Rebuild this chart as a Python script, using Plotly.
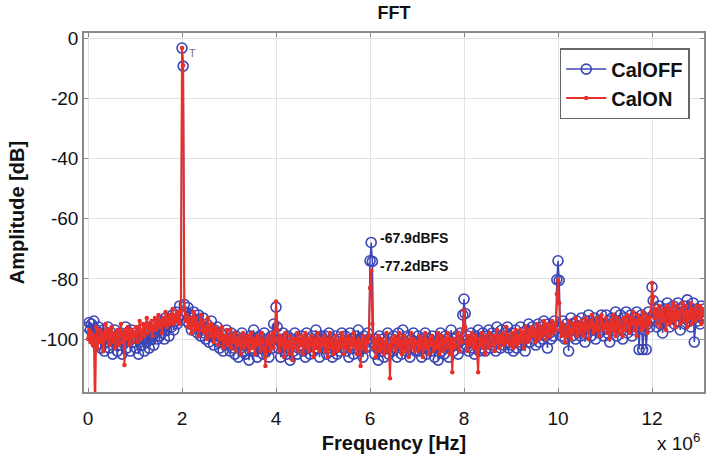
import plotly.graph_objects as go

# ---------------- data ----------------
# FFT magnitude in dB, one list per 1 MHz span, bins every 25 kHz
BIN_HZ = 25000

caloff_db_by_mhz = [
    [-96, -94.5, -97, -95, -99, -94, -100, -97, -102, -96, -98, -103, -100, -97, -104, -99, -101, -96, -103, -100,
     -98, -105, -101, -97, -99, -104, -100, -102, -98, -105, -99, -101, -96, -103, -100, -98, -104, -97, -101, -99],
    [-98, -103, -100, -105, -99, -97, -102, -100, -104, -98, -101, -96, -103, -99, -100, -97, -102, -98, -95, -100,
     -97, -99, -94, -98, -96, -100, -93, -97, -95, -99, -94, -96, -92, -97, -94, -91, -95, -93, -89, -92],
    [-3.3, -9.3, -88.5, -91, -94, -89.5, -95, -92, -97, -93, -91, -96, -94, -98, -92, -95, -99, -96, -93, -98,
     -100, -95, -97, -101, -98, -94, -99, -102, -97, -100, -96, -101, -103, -98, -100, -104, -99, -102, -97, -101],
    [-100, -104, -98, -103, -101, -105, -99, -102, -106, -100, -103, -98, -104, -101, -105, -100, -102, -107, -99, -103,
     -101, -97, -104, -100, -106, -102, -99, -103, -101, -105, -98, -102, -104, -100, -106, -101, -99, -103, -95, -100],
    [-89.4, -96, -103, -100, -106, -101, -98, -104, -102, -105, -99, -103, -107, -100, -102, -104, -98, -101, -105, -103,
     -100, -102, -99, -104, -101, -106, -98, -103, -100, -105, -102, -99, -104, -101, -97, -103, -100, -106, -102, -99],
    [-100, -103, -99, -105, -102, -98, -104, -101, -106, -100, -103, -99, -105, -102, -104, -100, -98, -103, -101, -99,
     -104, -101, -106, -98, -102, -100, -105, -103, -99, -101, -97, -104, -100, -102, -106, -99, -103, -101, -98, -100],
    [-74.0, -67.9, -74.2, -101, -105, -100, -103, -107, -99, -102, -104, -100, -106, -101, -103, -98, -105, -102, -100, -104,
     -99, -103, -101, -106, -98, -102, -100, -105, -97, -103, -101, -104, -99, -102, -106, -100, -103, -98, -101, -104],
    [-101, -99, -104, -102, -106, -100, -103, -98, -105, -101, -103, -100, -104, -99, -102, -106, -101, -103, -107, -100,
     -98, -104, -101, -105, -99, -102, -100, -106, -103, -97, -101, -104, -100, -102, -99, -105, -101, -98, -103, -92],
    [-86.7, -91.5, -102, -99, -104, -101, -98, -103, -100, -105, -99, -102, -97, -104, -100, -103, -98, -101, -104, -99,
     -101, -97, -103, -100, -98, -102, -99, -104, -96, -101, -99, -103, -97, -100, -102, -98, -101, -96, -103, -99],
    [-102, -98, -104, -100, -97, -103, -99, -101, -96, -102, -98, -100, -104, -97, -99, -95, -101, -98, -96, -100,
     -97, -102, -99, -95, -101, -98, -96, -100, -94, -99, -97, -103, -95, -98, -100, -96, -99, -94, -97, -80.3],
    [-74.0, -80.5, -96, -99, -94, -97, -100, -95, -98, -104, -96, -93, -99, -97, -95, -100, -94, -98, -96, -99,
     -93, -97, -95, -101, -94, -98, -92, -96, -99, -95, -97, -93, -100, -96, -94, -98, -95, -92, -97, -99],
    [-95, -92, -98, -94, -101, -96, -93, -97, -95, -91, -99, -94, -96, -92, -97, -100, -93, -95, -91, -98,
     -94, -96, -92, -99, -95, -93, -97, -91, -96, -103.5, -94, -92, -103.5, -97, -93, -103.5, -95, -91, -96, -93],
    [-82.7, -87.2, -94, -90, -96, -92, -89, -95, -91, -98, -93, -90, -94, -88, -92, -96, -90, -93, -89, -95,
     -91, -94, -88, -92, -97, -90, -93, -89, -95, -91, -87, -94, -90, -96, -92, -88, -101, -93, -90, -94],
    [-91, -95, -89, -93, -90],
]

calon_db_by_mhz = [
    [-100, -97, -101, -98, -102, -99, -125, -96, -103, -100, -97, -101, -98, -104, -99, -95, -100, -97, -102, -99,
     -96, -101, -98, -103, -100, -97, -102, -99, -95, -101, -98, -108.6, -97, -100, -96, -102, -99, -97, -101, -98],
    [-99, -96, -101, -97, -94, -100, -98, -95, -99, -96, -93, -98, -95, -97, -94, -99, -96, -93, -97, -95,
     -92, -96, -94, -98, -93, -95, -91, -96, -93, -95, -92, -94, -90, -95, -92, -94, -91, -93, -95, -91],
    [-3.3, -9.0, -90, -94, -92, -96, -93, -95, -98, -94, -91, -97, -93, -96, -99, -95, -92, -97, -94, -98,
     -96, -100, -93, -97, -99, -95, -98, -101, -96, -99, -97, -102, -98, -100, -96, -103, -99, -101, -97, -102],
    [-100, -97, -103, -99, -101, -98, -104, -100, -102, -99, -105, -101, -98, -103, -100, -102, -99, -104, -101, -98,
     -103, -100, -105, -101, -99, -102, -100, -104, -98, -101, -103, -109, -100, -102, -99, -104, -101, -98, -103, -100],
    [-87.5, -97, -101, -104, -99, -102, -100, -106, -98, -103, -101, -105, -99, -102, -107, -100, -103, -101, -98, -104,
     -100, -102, -99, -105, -101, -98, -103, -100, -104, -102, -99, -101, -106, -100, -103, -98, -102, -104, -100, -101],
    [-102, -99, -104, -100, -106, -101, -98, -103, -100, -105, -102, -99, -104, -101, -103, -100, -98, -102, -105, -100,
     -103, -99, -101, -104, -100, -102, -98, -103, -101, -105, -100, -102, -109, -101, -99, -103, -100, -104, -101, -99],
    [-83, -77.2, -95, -103, -100, -106, -101, -99, -104, -102, -100, -103, -105, -101, -98, -104, -102, -113, -100, -103,
     -101, -99, -104, -100, -102, -98, -103, -105, -101, -99, -104, -100, -102, -106, -101, -98, -103, -100, -104, -101],
    [-101, -104, -99, -103, -100, -106, -102, -98, -103, -101, -105, -100, -102, -99, -104, -101, -103, -100, -98, -105,
     -102, -99, -104, -101, -100, -103, -98, -102, -105, -100, -111, -101, -103, -100, -98, -102, -104, -99, -101, -97],
    [-90.4, -96, -101, -104, -99, -102, -100, -98, -103, -101, -99, -104, -111, -100, -102, -98, -103, -100, -105, -99,
     -101, -103, -98, -100, -102, -99, -104, -101, -97, -100, -103, -99, -101, -98, -102, -100, -96, -101, -99, -102],
    [-101, -98, -103, -100, -97, -102, -99, -101, -97, -100, -98, -103, -96, -99, -101, -97, -100, -98, -96, -99,
     -97, -101, -95, -98, -100, -96, -99, -97, -94, -98, -100, -95, -97, -99, -96, -94, -98, -95, -97, -85],
    [-80.5, -88, -97, -99, -95, -98, -101, -96, -99, -94, -97, -100, -95, -98, -96, -93, -99, -97, -95, -98,
     -94, -96, -99, -93, -97, -95, -100, -94, -96, -92, -98, -95, -97, -93, -96, -99, -94, -92, -97, -95],
    [-96, -93, -98, -95, -100, -94, -97, -92, -96, -99, -93, -95, -98, -94, -96, -99, -93, -97, -94, -92,
     -96, -98, -93, -95, -91, -97, -94, -99, -92, -95, -93, -97, -91, -96, -94, -92, -98, -93, -95, -91],
    [-81.4, -86, -93, -90, -95, -92, -89, -96, -91, -94, -90, -93, -97, -89, -92, -95, -90, -94, -88, -92,
     -96, -89, -93, -91, -95, -90, -88, -94, -92, -89, -96, -91, -93, -88, -95, -90, -92, -94, -89, -91],
    [-93, -89, -95, -90, -92],
]


def flatten(groups):
    xs, ys = [], []
    for mhz, vals in enumerate(groups):
        for j, v in enumerate(vals):
            xs.append(mhz * 1e6 + j * BIN_HZ)
            ys.append(v)
    return xs, ys


caloff_hz, caloff_db = flatten(caloff_db_by_mhz)
calon_hz, calon_db = flatten(calon_db_by_mhz)

x_tick_vals = [0, 2e6, 4e6, 6e6, 8e6, 10e6, 12e6]
x_tick_text = ["0", "2", "4", "6", "8", "10", "12"]
y_tick_vals = [0, -20, -40, -60, -80, -100]
y_tick_text = ["0", "-20", "-40", "-60", "-80", "-100"]

spur_labels = ["-67.9dBFS", "-77.2dBFS"]
spur_label_pos = [(6.17e6, -66.4), (6.17e6, -75.7)]

FONT = "Liberation Sans, Arial, sans-serif"
BLUE = "#3a46b6"
RED = "#e8302a"

fig = go.Figure()
fig.add_trace(go.Scatter(
    x=caloff_hz, y=caloff_db, name="<b>CalOFF</b>", mode="lines+markers",
    line=dict(color=BLUE, width=1.5),
    marker=dict(symbol="circle-open", size=10, color=BLUE, line=dict(width=1.6, color=BLUE)),
))
fig.add_trace(go.Scatter(
    x=calon_hz, y=calon_db, name="<b>CalON</b>", mode="lines+markers",
    line=dict(color=RED, width=2),
    marker=dict(symbol="circle", size=4.5, color=RED),
))

for txt, (xx, yy) in zip(spur_labels, spur_label_pos):
    fig.add_annotation(x=xx, y=yy, text="<b>%s</b>" % txt, showarrow=False,
                       xanchor="left", yanchor="middle",
                       font=dict(family=FONT, size=14, color="#111"))

fig.add_annotation(x=2.1e6, y=-5, text="T", showarrow=False, xanchor="left",
                   font=dict(family=FONT, size=11, color="#777"))

fig.add_annotation(xref="paper", yref="paper", x=0.921, y=-0.14, text="x 10<sup>6</sup>",
                   showarrow=False, xanchor="left", yanchor="middle",
                   font=dict(family=FONT, size=19, color="#111"))

axis_common = dict(
    showline=True, mirror="ticks", linecolor="#8a8a8a", linewidth=1.5,
    ticks="inside", ticklen=4, tickcolor="#8a8a8a",
    showgrid=True, gridcolor="#e2e2e2", gridwidth=1, zeroline=False,
    tickfont=dict(family=FONT, size=19, color="#111"),
    automargin=False,
)

fig.update_layout(
    width=706, height=458,
    margin=dict(l=84, r=2, t=33, b=66),
    paper_bgcolor="white", plot_bgcolor="white",
    title=dict(text="<b>FFT</b>", x=0.558, xanchor="center", y=0.972, yanchor="middle",
               font=dict(family=FONT, size=18, color="#111"), automargin=False),
    showlegend=True,
    legend=dict(x=0.977, y=0.958, xanchor="right", yanchor="top",
                bgcolor="white", bordercolor="#666", borderwidth=1.5,
                font=dict(family=FONT, size=20, color="#111"),
                itemwidth=40, tracegroupgap=0),
    xaxis=dict(range=[-0.085e6, 13.106e6], tickvals=x_tick_vals, ticktext=x_tick_text,
               ticklabelstandoff=8,
               title=dict(text="<b>Frequency [Hz]</b>", standoff=8,
                          font=dict(family=FONT, size=20, color="#111")),
               **axis_common),
    yaxis=dict(range=[-117.6, 1.7], tickvals=y_tick_vals, ticktext=y_tick_text,
               title=dict(text="<b>Amplitude [dB]</b>", standoff=10,
                          font=dict(family=FONT, size=20, color="#111")),
               **axis_common),
)

fig.write_html("out.html", config={"displayModeBar": False},
               post_script="document.body.style.margin='0';document.body.style.padding='0';")
